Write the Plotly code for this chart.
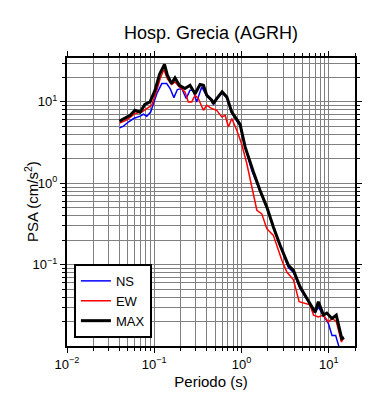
import plotly.graph_objects as go

# ---- data ----
ns_period = [0.040, 0.044, 0.051, 0.058, 0.069, 0.075, 0.082, 0.091, 0.098, 0.107, 0.122, 0.139,
             0.152, 0.168, 0.184, 0.207, 0.232, 0.257, 0.28, 0.306, 0.35, 0.40, 0.456, 0.476,
             0.52, 0.60, 0.68, 0.774, 0.883, 0.964, 1.1, 1.31, 1.63, 1.95, 2.32, 2.77, 3.45,
             3.94, 4.7, 5.85, 6.98, 7.6, 8.7, 9.9, 10.9, 12.0, 13.2]
ns_psa = [4.8, 5.0, 5.7, 6.25, 6.7, 7.06, 6.67, 7.5, 9.55, 12.6, 16.8, 16.8,
          14.6, 11.3, 14.2, 14.6, 11.0, 13.9, 13.9, 10.0, 15.3, 11.8, 10.3, 9.4,
          10.8, 13.0, 11.2, 7.3, 5.8, 5.1, 2.75, 1.45, 0.80, 0.50, 0.285, 0.17, 0.092,
          0.080, 0.051, 0.035, 0.026, 0.030, 0.024, 0.019, 0.0135, 0.0135, 0.0095]

ew_period = [0.040, 0.048, 0.060, 0.072, 0.082, 0.0935, 0.107, 0.117, 0.129, 0.141, 0.158, 0.173,
             0.194, 0.225, 0.246, 0.269, 0.294, 0.32, 0.366, 0.40, 0.456, 0.52, 0.594, 0.65,
             0.708, 0.774, 0.883, 1.0, 1.15, 1.31, 1.50, 1.71, 1.95, 2.32, 2.9, 3.31, 3.94,
             4.58, 6.1, 6.7, 7.6, 8.7, 9.9, 10.9, 12.2, 14.0, 14.7]
ew_psa = [5.5, 5.96, 7.2, 7.5, 8.3, 9.1, 13.9, 19.4, 25.0, 19.4, 16.4, 17.6,
          15.3, 13.3, 10.0, 10.0, 12.1, 11.0, 7.9, 9.1, 8.3, 7.9, 6.55, 6.85,
          4.92, 6.25, 4.49, 3.08, 1.75, 0.90, 0.466, 0.42, 0.277, 0.229, 0.113, 0.081, 0.065,
          0.035, 0.032, 0.024, 0.0227, 0.024, 0.0197, 0.0218, 0.020, 0.0112, 0.0125]

max_period = [0.040, 0.046, 0.053, 0.060, 0.069, 0.078, 0.0895, 0.102, 0.115, 0.131, 0.141, 0.158,
              0.173, 0.194, 0.225, 0.257, 0.294, 0.335, 0.366, 0.40, 0.456, 0.476, 0.52, 0.60,
              0.68, 0.774, 0.883, 0.964, 1.1, 1.31, 1.37, 1.63, 1.95, 2.32, 2.77, 3.45, 3.94,
              4.7, 5.85, 6.98, 7.6, 8.7, 9.5, 10.9, 12.2, 14.1, 15.0]
max_psa = [5.8, 6.25, 6.85, 7.9, 7.5, 9.3, 10.0, 13.9, 21.9, 29.0, 21.5, 16.8,
           19.7, 16.0, 14.6, 16.0, 12.6, 16.4, 16.0, 12.1, 10.5, 9.55, 11.0, 13.3,
           11.5, 7.5, 5.96, 5.3, 2.8, 1.51, 1.38, 0.82, 0.51, 0.29, 0.173, 0.098, 0.085,
           0.053, 0.036, 0.026, 0.035, 0.024, 0.0254, 0.0218, 0.024, 0.0123, 0.0127]

x_ticks = [0.01, 0.1, 1, 10]
x_ticktext = ["10<sup>−2</sup>", "10<sup>−1</sup>", "10<sup>0</sup>", "10<sup>1</sup>"]
y_ticks = [0.1, 1, 10]
y_ticktext = ["10<sup>−1</sup>", "10<sup>0</sup>", "10<sup>1</sup>"]

FONT = "Liberation Sans, Arial, Helvetica, sans-serif"

# page body has an 8px default margin; compensate so the plot lands where the reference has it
W, H = 382, 392
ML, MR, MT, MB = 59, 35, 50, 54
PLOT_W = W - ML - MR

def minor_vals(lo, hi):
    out = []
    for e in range(lo, hi + 1):
        for m in range(2, 10):
            out.append(m * 10 ** e)
    return out

fig = go.Figure()
fig.add_trace(go.Scatter(x=ns_period, y=ns_psa, mode="lines", name="NS",
                         line=dict(color="#0000ff", width=1.5)))
fig.add_trace(go.Scatter(x=ew_period, y=ew_psa, mode="lines", name="EW",
                         line=dict(color="#ff0000", width=1.5)))
fig.add_trace(go.Scatter(x=max_period, y=max_psa, mode="lines", name="MAX",
                         line=dict(color="#000000", width=3)))

GRID = "#808080"
axis_common = dict(
    type="log", showline=True, linecolor="black", linewidth=2, mirror="allticks",
    ticks="outside", ticklen=5, tickwidth=1, tickcolor="black", automargin=False,
    showgrid=True, gridcolor=GRID, gridwidth=1, zeroline=False,
    tickfont=dict(family=FONT, size=13, color="black"),
)

fig.update_xaxes(**axis_common, range=[-2, 1.301],
                 tickmode="array", tickvals=x_ticks, ticktext=x_ticktext,
                 minor=dict(tickmode="array", tickvals=minor_vals(-2, 1), ticks="outside",
                            ticklen=3, tickcolor="black", showgrid=True,
                            gridcolor=GRID, gridwidth=1),
                 title=dict(text="Periodo (s)", font=dict(family=FONT, size=15, color="black"),
                            standoff=6))
fig.update_yaxes(**axis_common, range=[-2, 1.54],
                 tickmode="array", tickvals=y_ticks, ticktext=y_ticktext,
                 minor=dict(tickmode="array", tickvals=minor_vals(-2, 1), ticks="outside",
                            ticklen=3, tickcolor="black", showgrid=True,
                            gridcolor=GRID, gridwidth=1))

fig.add_annotation(text="PSA (cm/s<sup>2</sup>)", xref="paper", yref="paper",
                   x=(23 - ML) / PLOT_W, y=0.5, xanchor="center", yanchor="middle",
                   textangle=-90, showarrow=False,
                   font=dict(family=FONT, size=15, color="black"))

fig.update_layout(
    width=W, height=H,
    margin=dict(l=ML, r=MR, t=MT, b=MB, autoexpand=False),
    paper_bgcolor="white", plot_bgcolor="white",
    title=dict(text="Hosp. Grecia (AGRH)", x=203 / W, xanchor="center",
               y=1 - 25 / H, yanchor="middle", automargin=False,
               font=dict(family=FONT, size=18, color="black")),
    font=dict(family=FONT, color="black"),
    showlegend=True,
    legend=dict(x=0.024, y=0.285, xanchor="left", yanchor="top",
                bgcolor="white", bordercolor="black", borderwidth=2,
                font=dict(family=FONT, size=13, color="black"),
                itemwidth=30, tracegroupgap=0),
)

fig.write_html("out.html")
